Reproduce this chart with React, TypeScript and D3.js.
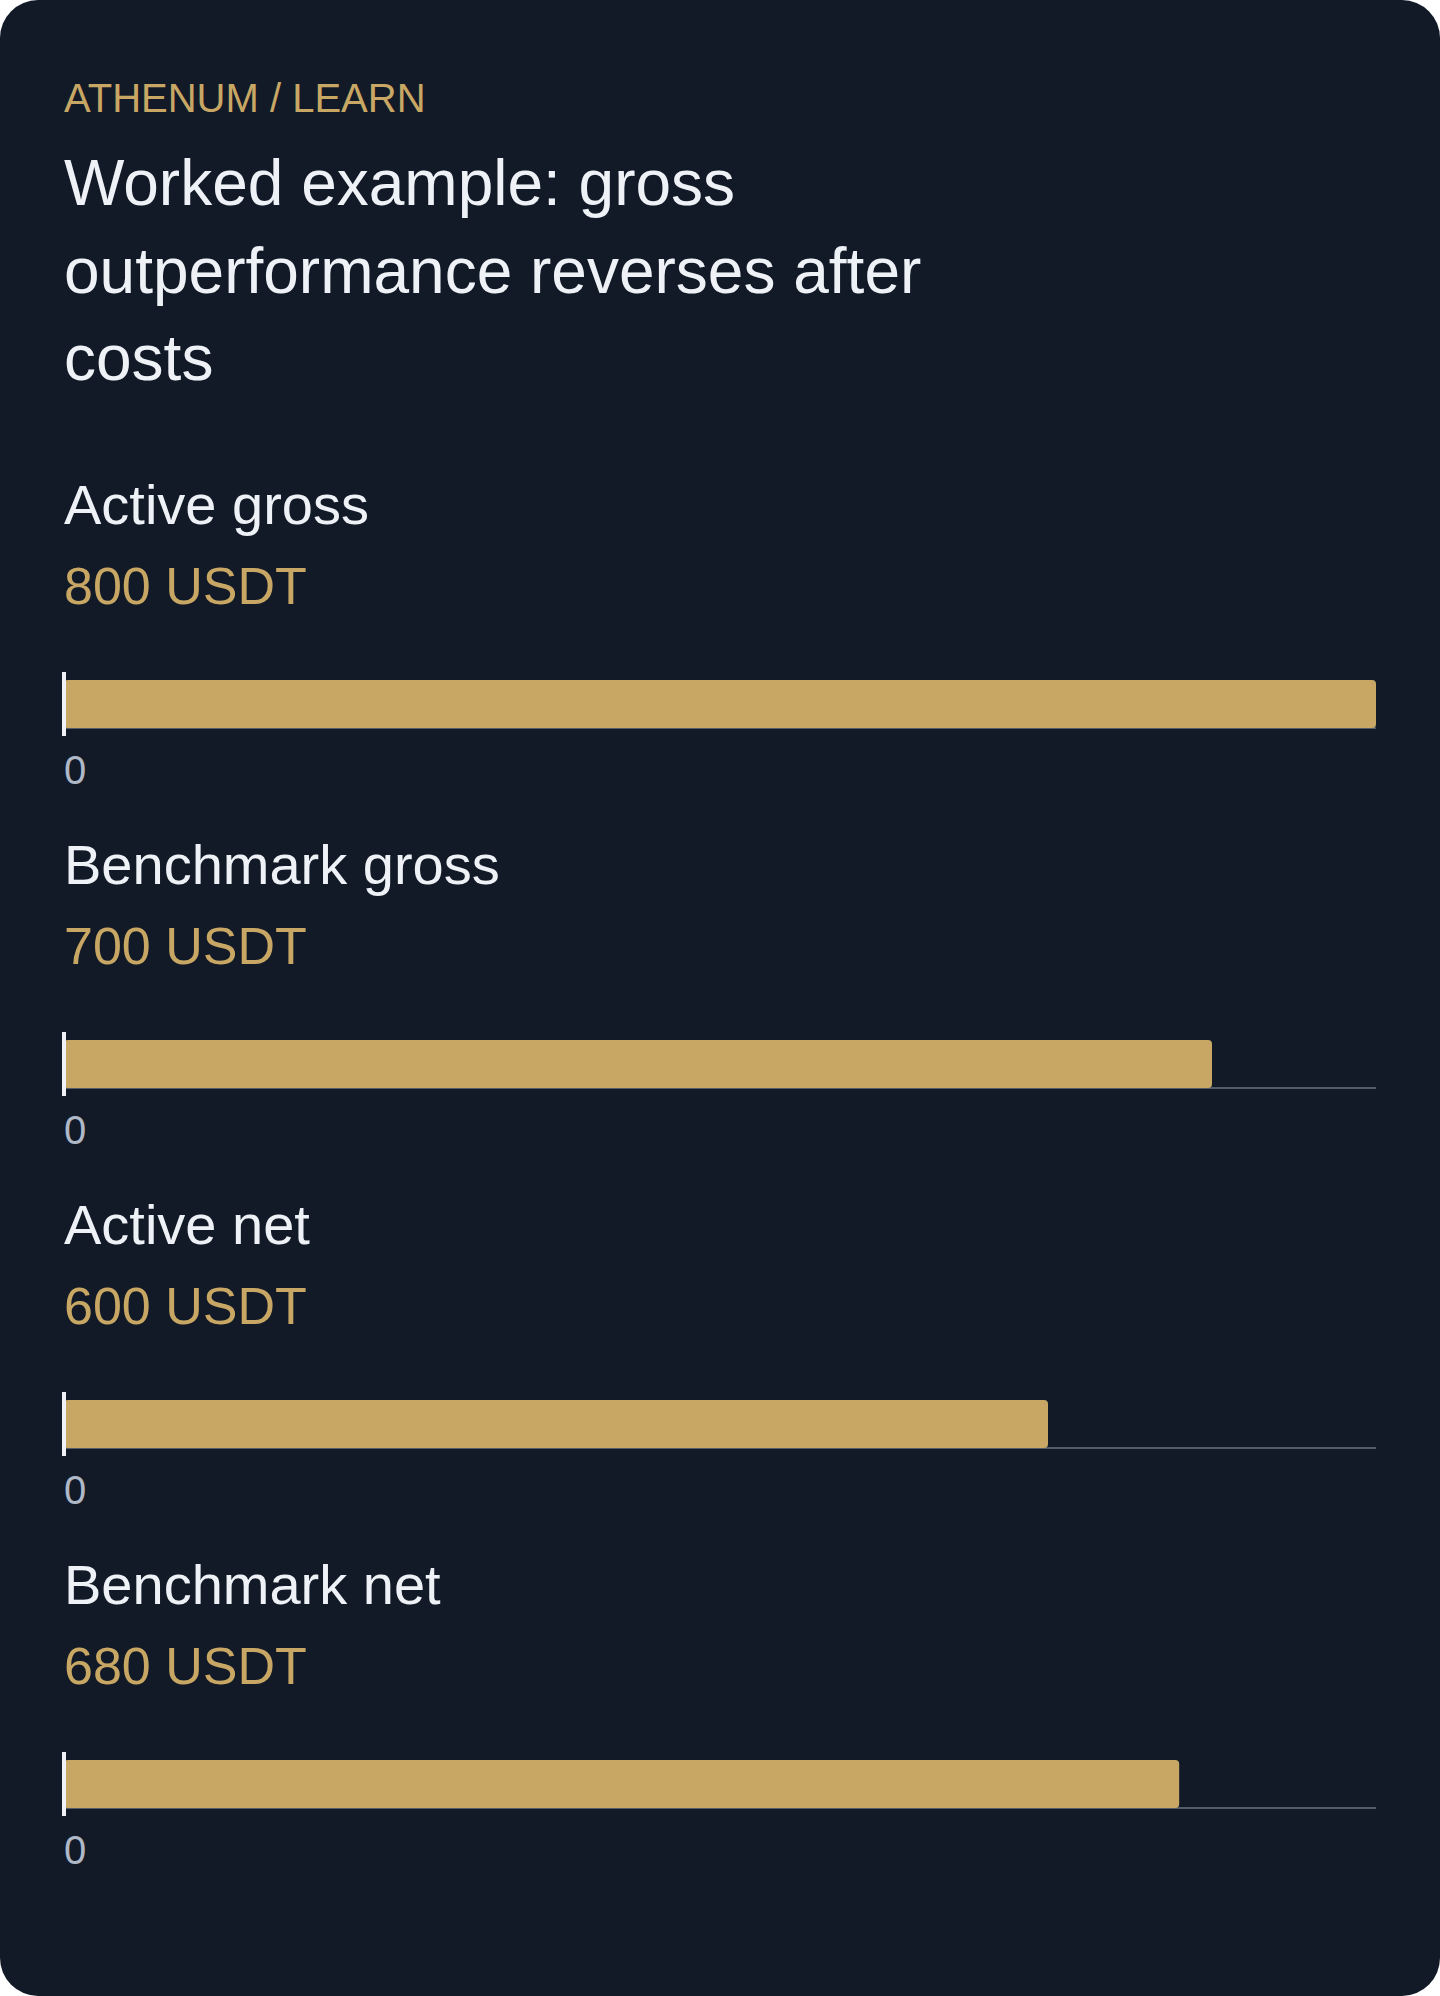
import React from "react";
import * as d3 from "d3";

const eyebrow = "ATHENUM / LEARN";
const titleLines = ["Worked example: gross", "outperformance reverses after", "costs"];
const categories = ["Active gross", "Benchmark gross", "Active net", "Benchmark net"];
const values = [800, 700, 600, 680];
const unit = "USDT";
const tickValues = [0];

const W = 1440;
const H = 1996;
const FONT = "'Liberation Sans', Arial, Helvetica, sans-serif";
const BG = "#131a27";
const GOLD = "#c8a764";
const WHITE = "#eef2f7";
const MUTED = "#aeb8c6";
const AXIS = "#525b68";

function barPath(x0: number, x1: number, y0: number, y1: number, r: number) {
  const p = d3.path();
  const w = x1 - x0;
  const rr = Math.min(r, w / 2, (y1 - y0) / 2);
  p.moveTo(x0 + rr, y0);
  p.lineTo(x1 - rr, y0);
  p.arcTo(x1, y0, x1, y0 + rr, rr);
  p.lineTo(x1, y1 - rr);
  p.arcTo(x1, y1, x1 - rr, y1, rr);
  p.lineTo(x0 + rr, y1);
  p.arcTo(x0, y1, x0, y1 - rr, rr);
  p.lineTo(x0, y0 + rr);
  p.arcTo(x0, y0, x0 + rr, y0, rr);
  p.closePath();
  return p.toString();
}

export default function App() {
  const x = d3.scaleLinear().domain([0, d3.max(values) as number]).range([64, 1376]);
  const band = d3
    .scaleBand<string>()
    .domain(categories)
    .range([460, 460 + 360 * categories.length])
    .paddingInner(0)
    .paddingOuter(0);

  return (
    <svg
      width={W}
      height={H}
      viewBox={`0 0 ${W} ${H}`}
      style={{ position: "absolute", left: 0, top: 0, display: "block" }}
    >
      <rect x={0} y={0} width={W} height={H} fill="#ffffff" />
      <rect x={0} y={0} width={W} height={H} rx={38} ry={38} fill={BG} />
      <text x={64} y={112} fill={GOLD} fontFamily={FONT} fontSize={40}>
        {eyebrow}
      </text>
      {titleLines.map((t, i) => (
        <text key={t} x={64} y={205 + i * 87.5} fill={WHITE} fontFamily={FONT} fontSize={64}>
          {t}
        </text>
      ))}
      {categories.map((c, i) => {
        const y0 = band(c) as number;
        const v = values[i];
        return (
          <g key={c}>
            <text x={64} y={y0 + 64} fill={WHITE} fontFamily={FONT} fontSize={56}>
              {c}
            </text>
            <text x={64} y={y0 + 144} fill={GOLD} fontFamily={FONT} fontSize={52}>
              {`${d3.format("d")(v)} ${unit}`}
            </text>
            <line x1={x.range()[0]} x2={x.range()[1]} y1={y0 + 268} y2={y0 + 268} stroke={AXIS} strokeWidth={2} />
            <path d={barPath(x(0), x(v), y0 + 220, y0 + 268, 4)} fill={GOLD} />
            <line x1={x(0)} x2={x(0)} y1={y0 + 212} y2={y0 + 276} stroke={WHITE} strokeWidth={4} />
            {tickValues.map((tv) => (
              <text key={tv} x={x(tv)} y={y0 + 324} fill={MUTED} fontFamily={FONT} fontSize={40}>
                {String(tv)}
              </text>
            ))}
          </g>
        );
      })}
    </svg>
  );
}
